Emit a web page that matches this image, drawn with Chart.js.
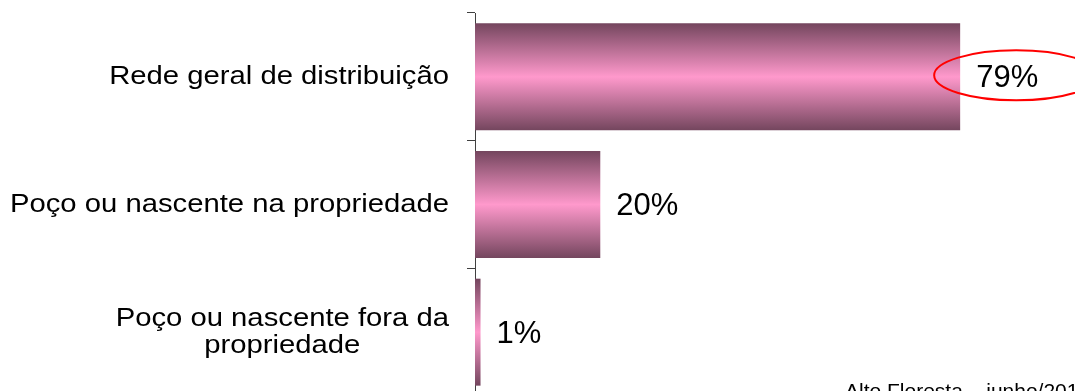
<!DOCTYPE html>
<html><head><meta charset="utf-8">
<script src="https://cdn.jsdelivr.net/npm/chart.js@4.4.1/dist/chart.umd.min.js"></script>
<style>
html,body{margin:0;padding:0;background:#fff;overflow:hidden;width:1075px;height:391px}
#wrap{position:relative;width:1075px;height:396px}
</style></head>
<body><div id="wrap"><canvas id="c"></canvas></div>
<script>
const categories = [["Rede geral de distribuição"], ["Poço ou nascente na propriedade"], ["Poço ou nascente fora da", "propriedade"]];
const values = [79, 20.4, 0.9];
const valueLabels = ["79%", "20%", "1%"];
const footnote = "Alto Floresta – junho/2013";
const highlightIndex = 0;

const FONT = "'Liberation Sans', Arial, sans-serif";

function barGradient(context) {
  const chart = context.chart;
  const ys = chart.scales.y;
  if (!ys || !chart.chartArea) return '#ff99cc';
  const c = ys.getPixelForValue(context.dataIndex);
  const step = Math.abs(ys.getPixelForValue(1) - ys.getPixelForValue(0));
  const h = step * 0.838 / 2;
  const g = chart.ctx.createLinearGradient(0, c - h, 0, c + h);
  g.addColorStop(0, '#74465e');
  g.addColorStop(0.5, '#ff99cc');
  g.addColorStop(1, '#74465e');
  return g;
}

const labelPlugin = {
  id: 'labels',
  afterDraw(chart) {
    const ctx = chart.ctx;
    const ys = chart.scales.y;
    ctx.save();
    ctx.fillStyle = '#000';
    ctx.font = '26px ' + FONT;
    ctx.textBaseline = 'middle';
    ctx.textAlign = 'center';
    const rightX = ys.right - 8 - 18;
    const lh = 27;
    const k = 1.125;
    categories.forEach((lines, i) => {
      const cy = ys.getPixelForTick(i);
      const widest = Math.max(...lines.map(l => ctx.measureText(l).width));
      const y0 = cy - (lines.length - 1) * lh / 2;
      ctx.save();
      ctx.translate(rightX, 0);
      ctx.scale(k, 1);
      lines.forEach((l, j) => ctx.fillText(l, -widest / 2, y0 + j * lh));
      ctx.restore();
    });
    // footnote
    ctx.textAlign = 'left';
    ctx.textBaseline = 'alphabetic';
    ctx.font = '21px ' + FONT;
    ctx.fillText(footnote, 845, 398);
    ctx.restore();
  },
  afterDatasetsDraw(chart) {
    const ctx = chart.ctx;
    const meta = chart.getDatasetMeta(0);
    ctx.save();
    ctx.fillStyle = '#000';
    ctx.font = '31px ' + FONT;
    ctx.textAlign = 'left';
    ctx.textBaseline = 'middle';
    meta.data.forEach((el, i) => {
      ctx.fillText(valueLabels[i], el.x + 16, el.y + 2);
    });
    const hl = meta.data[highlightIndex];
    ctx.beginPath();
    ctx.ellipse(hl.x + 56, hl.y - 1.5, 82, 25, 0, 0, Math.PI * 2);
    ctx.strokeStyle = '#ff0000';
    ctx.lineWidth = 2;
    ctx.stroke();
    ctx.restore();
  }
};

new Chart(document.getElementById('c'), {
  type: 'bar',
  data: {
    labels: categories,
    datasets: [{
      data: values,
      backgroundColor: barGradient,
      borderWidth: 0,
      barPercentage: 0.838,
      categoryPercentage: 1
    }]
  },
  options: {
    indexAxis: 'y',
    responsive: true,
    maintainAspectRatio: false,
    animation: false,
    layout: { padding: { top: 13, right: 0, bottom: 0, left: 0 } },
    plugins: { legend: { display: false }, tooltip: { enabled: false } },
    scales: {
      x: { display: false, min: 0, max: 97.7 },
      y: {
        offset: true,
        border: { display: true, color: '#404040', width: 1 },
        grid: { offset: true, drawOnChartArea: false, drawTicks: true, tickLength: 8, color: '#404040' },
        ticks: { display: false },
        afterFit(s) { s.width = 475; }
      }
    }
  },
  plugins: [labelPlugin]
});
</script>
</body></html>
